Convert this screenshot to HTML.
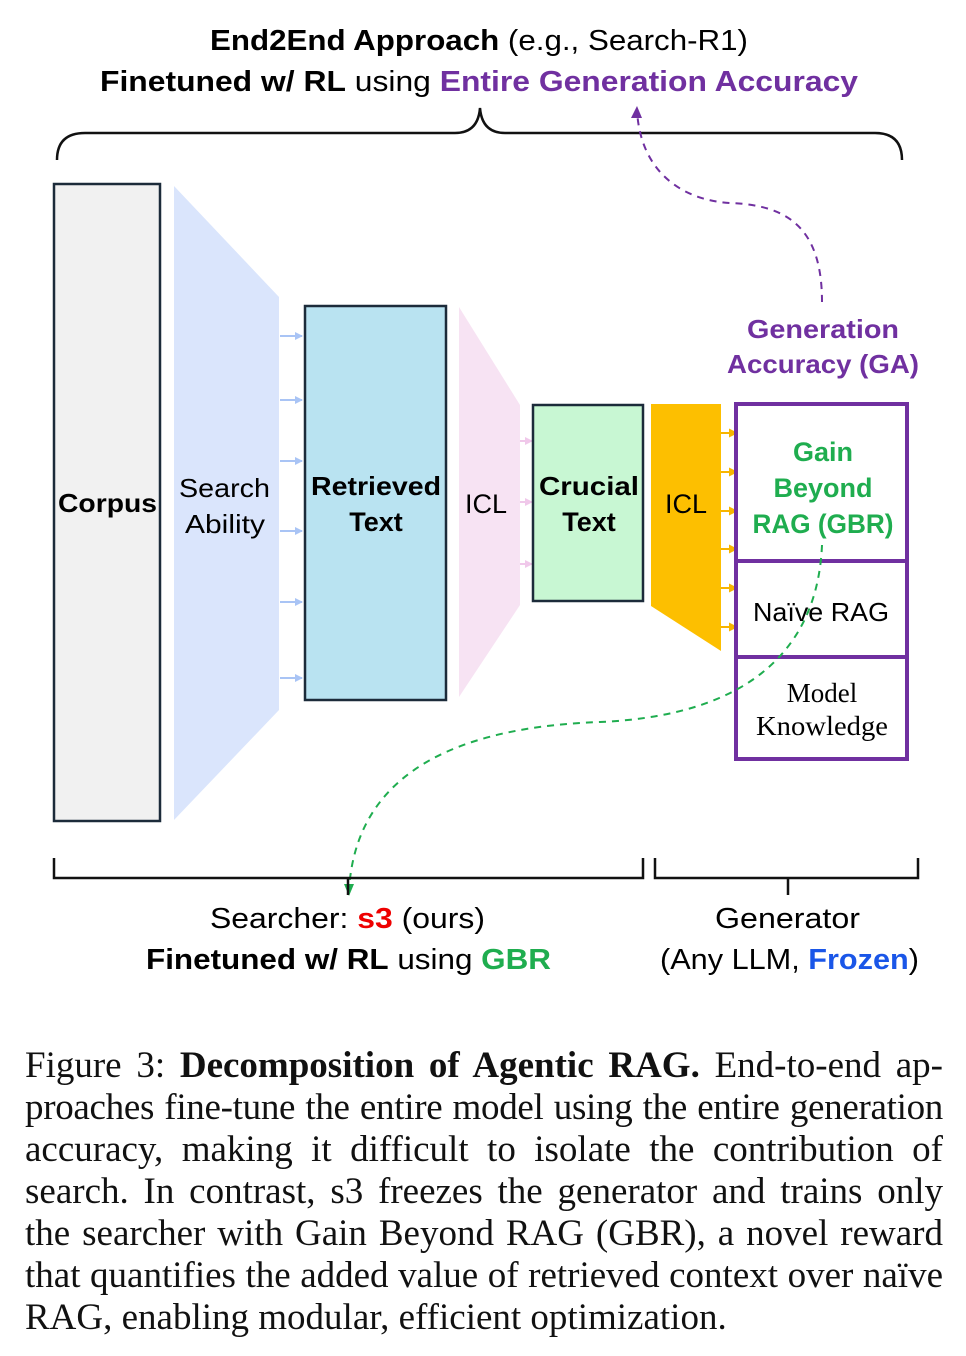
<!DOCTYPE html>
<html><head><meta charset="utf-8"><style>
body{margin:0;background:#fff;width:966px;height:1356px;overflow:hidden;position:relative;font-family:"Liberation Sans",sans-serif}
.cap{position:absolute;left:25px;top:1045px;width:918px;font-family:"Liberation Serif",serif;font-size:37px;line-height:42px;color:#111}
.cap div{text-align:justify;text-align-last:justify;white-space:nowrap;height:42px}
.cap div.l{text-align-last:left}
</style></head><body>
<svg width="966" height="1040" style="position:absolute;left:0;top:0" font-family="Liberation Sans, sans-serif">
<defs>
<marker id="ab" markerWidth="8" markerHeight="8" refX="7" refY="4" orient="auto" markerUnits="userSpaceOnUse"><path d="M0,0 L8,4 L0,8z" fill="#a9c4f5"/></marker>
<marker id="ap" markerWidth="8" markerHeight="8" refX="7" refY="4" orient="auto" markerUnits="userSpaceOnUse"><path d="M0,0 L8,4 L0,8z" fill="#f0c8ea"/></marker>
<marker id="ao" markerWidth="9" markerHeight="9" refX="8" refY="4.5" orient="auto" markerUnits="userSpaceOnUse"><path d="M0,0 L9,4.5 L0,9z" fill="#f7b500"/></marker>
</defs>
<text x="210" y="50" font-size="29" textLength="538" lengthAdjust="spacingAndGlyphs"><tspan font-weight="bold">End2End Approach</tspan> (e.g., Search-R1)</text>
<text x="100" y="91" font-size="29" textLength="758" lengthAdjust="spacingAndGlyphs"><tspan font-weight="bold">Finetuned w/ RL</tspan> using <tspan font-weight="bold" fill="#7030a0">Entire Generation Accuracy</tspan></text>
<path d="M57,160 Q57,133 85,133 L455,133 Q478,133 480,108 Q482,133 505,133 L875,133 Q902,133 902,160" fill="none" stroke="#111" stroke-width="2.5"/>
<rect x="54" y="184" width="106" height="637" fill="#f1f1f1" stroke="#1c2b3a" stroke-width="2.5"/>
<text x="58" y="512" font-size="26" font-weight="bold" textLength="99" lengthAdjust="spacingAndGlyphs">Corpus</text>
<polygon points="174,186 279,297 279,710 174,820" fill="#dae5fc"/>
<text x="179" y="497" font-size="26" textLength="91" lengthAdjust="spacingAndGlyphs">Search</text>
<text x="185" y="533" font-size="26" textLength="80" lengthAdjust="spacingAndGlyphs">Ability</text>
<g stroke="#a9c4f5" stroke-width="2" marker-end="url(#ab)">
<line x1="280" y1="336" x2="302" y2="336"/><line x1="280" y1="400" x2="302" y2="400"/><line x1="280" y1="461" x2="302" y2="461"/><line x1="280" y1="531" x2="302" y2="531"/><line x1="280" y1="602" x2="302" y2="602"/><line x1="280" y1="678" x2="302" y2="678"/>
</g>
<rect x="305" y="306" width="141" height="394" fill="#b9e3f1" stroke="#1c2b3a" stroke-width="2.5"/>
<text x="311" y="495" font-size="26" font-weight="bold" textLength="130" lengthAdjust="spacingAndGlyphs">Retrieved</text>
<text x="376" y="531" text-anchor="middle" font-size="27" font-weight="bold">Text</text>
<polygon points="459,307 520,405 520,605 459,697" fill="#f7e3f3"/>
<text x="486" y="513" text-anchor="middle" font-size="27">ICL</text>
<g stroke="#f0c8ea" stroke-width="2" marker-end="url(#ap)">
<line x1="520" y1="441" x2="532" y2="441"/><line x1="520" y1="502" x2="532" y2="502"/><line x1="520" y1="564" x2="532" y2="564"/>
</g>
<rect x="533" y="405" width="110" height="196" fill="#c8f7d3" stroke="#1c2b3a" stroke-width="2.5"/>
<text x="539" y="495" font-size="26" font-weight="bold" textLength="100" lengthAdjust="spacingAndGlyphs">Crucial</text>
<text x="589" y="531" text-anchor="middle" font-size="27" font-weight="bold">Text</text>
<polygon points="651,404 721,404 721,651 651,606" fill="#fdbf00"/>
<text x="686" y="513" text-anchor="middle" font-size="27">ICL</text>
<g stroke="#f7b500" stroke-width="2" marker-end="url(#ao)">
<line x1="721" y1="433" x2="737" y2="433"/><line x1="721" y1="472" x2="737" y2="472"/><line x1="721" y1="511" x2="737" y2="511"/><line x1="721" y1="549" x2="737" y2="549"/><line x1="721" y1="588" x2="737" y2="588"/><line x1="721" y1="627" x2="737" y2="627"/>
</g>
<rect x="736" y="404" width="171" height="355" fill="#fff" stroke="#7030a0" stroke-width="4"/>
<line x1="736" y1="561" x2="907" y2="561" stroke="#7030a0" stroke-width="4"/>
<line x1="736" y1="657" x2="907" y2="657" stroke="#7030a0" stroke-width="4"/>
<g font-size="27" font-weight="bold" fill="#1fad4f" text-anchor="middle">
<text x="823" y="461">Gain</text><text x="823" y="497">Beyond</text><text x="823" y="533" textLength="141" lengthAdjust="spacingAndGlyphs">RAG (GBR)</text></g>
<text x="821" y="621" text-anchor="middle" font-size="26" textLength="136" lengthAdjust="spacingAndGlyphs">Naïve RAG</text>
<text x="822" y="702" text-anchor="middle" font-size="27" font-family="Liberation Serif, serif">Model</text>
<text x="822" y="735" text-anchor="middle" font-size="27" font-family="Liberation Serif, serif" textLength="132" lengthAdjust="spacingAndGlyphs">Knowledge</text>
<g font-size="26" font-weight="bold" fill="#7030a0" text-anchor="middle">
<text x="823" y="338" textLength="152" lengthAdjust="spacingAndGlyphs">Generation</text><text x="823" y="373" textLength="192" lengthAdjust="spacingAndGlyphs">Accuracy (GA)</text></g>
<path d="M822,302 C822,230 790,205 730,203 C680,200 640,170 637,110" fill="none" stroke="#7030a0" stroke-width="2" stroke-dasharray="7,6"/>
<path d="M631,118 L637,106 L642,118z" fill="#7030a0"/>
<path d="M822,545 C818,640 760,715 600,722 C430,728 355,790 349,890" fill="none" stroke="#1fad4f" stroke-width="2" stroke-dasharray="7,6"/>
<path d="M344,884 L349,896 L354,884z" fill="#1fad4f"/>
<path d="M54,858 L54,878 L348,878 L348,895 M348,878 L643,878 L643,858" fill="none" stroke="#111" stroke-width="2.5"/>
<path d="M655,858 L655,878 L788,878 L788,895 M788,878 L918,878 L918,858" fill="none" stroke="#111" stroke-width="2.5"/>
<text x="210" y="928" font-size="29" textLength="275" lengthAdjust="spacingAndGlyphs">Searcher: <tspan fill="#e00" font-weight="bold">s3</tspan> (ours)</text>
<text x="146" y="969" font-size="29" textLength="405" lengthAdjust="spacingAndGlyphs"><tspan font-weight="bold">Finetuned w/ RL</tspan> using <tspan font-weight="bold" fill="#1fad4f">GBR</tspan></text>
<text x="715" y="928" font-size="29" textLength="145" lengthAdjust="spacingAndGlyphs">Generator</text>
<text x="660" y="969" font-size="29" textLength="259" lengthAdjust="spacingAndGlyphs">(Any LLM, <tspan font-weight="bold" fill="#1a56e8">Frozen</tspan>)</text>
</svg>
<div class="cap">
<div>Figure 3: <b>Decomposition of Agentic RAG.</b> End-to-end ap-</div>
<div style="letter-spacing:-0.3px">proaches fine-tune the entire model using the entire generation</div>
<div>accuracy, making it difficult to isolate the contribution of</div>
<div>search. In contrast, s3 freezes the generator and trains only</div>
<div>the searcher with Gain Beyond RAG (GBR), a novel reward</div>
<div>that quantifies the added value of retrieved context over naïve</div>
<div class="l">RAG, enabling modular, efficient optimization.</div>
</div>
</body></html>
